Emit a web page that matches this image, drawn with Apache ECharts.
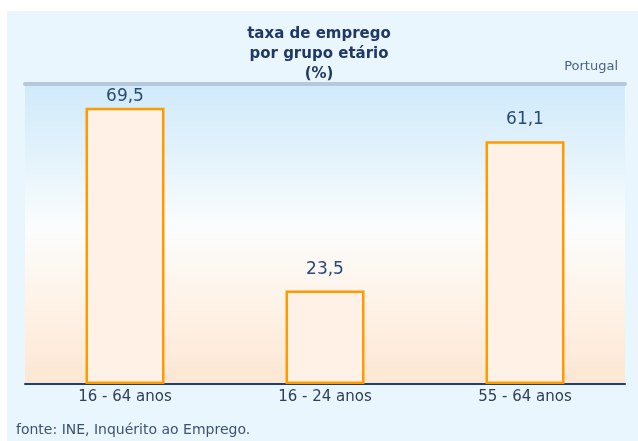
<!DOCTYPE html>
<html>
<head>
<meta charset="utf-8">
<script src="https://cdn.jsdelivr.net/npm/echarts@6/dist/echarts.min.js"></script>
<style>html,body{margin:0;padding:0;background:#fff}#c{width:638px;height:441px}</style>
</head>
<body>
<div id="c"></div>
<script>
const categories = ['16 - 64 anos', '16 - 24 anos', '55 - 64 anos'];
const values = [69.5, 23.5, 61.1];
const titleLines = ['taxa de emprego', 'por grupo etário', '(%)'];
const regionLabel = 'Portugal';
const sourceText = 'fonte: INE, Inquérito ao Emprego.';

const FONT = '"DejaVu Sans", Arial, sans-serif';
const chart = echarts.init(document.getElementById('c'), null, {renderer: 'canvas'});
chart.setOption({
  animation: false,
  backgroundColor: '#ffffff',
  graphic: [
    {type: 'rect', z: -10, shape: {x: 7, y: 11, width: 631, height: 430}, style: {fill: '#eaf6fd'}},
    {type: 'text', left: 'center', top: 24, style: {text: titleLines.join('\n'), font: 'bold 15px ' + FONT, fill: '#1f3868', textAlign: 'center', lineHeight: 20}},
    {type: 'text', right: 20, top: 60, style: {text: regionLabel, font: '13px ' + FONT, fill: '#4a6288'}},
    {type: 'text', left: 16, top: 423, style: {text: sourceText, font: '14px ' + FONT, fill: '#3c5274'}}
  ],
  grid: {
    left: 25, right: 13, top: 84, bottom: 57,
    show: true,
    borderWidth: 0,
    backgroundColor: {
      type: 'linear', x: 0, y: 0, x2: 0, y2: 1,
      colorStops: [
        {offset: 0, color: '#d0eafa'},
        {offset: 0.25, color: '#e4f3fc'},
        {offset: 0.48, color: '#fbfdfd'},
        {offset: 0.75, color: '#fef2e6'},
        {offset: 1, color: '#fde6d3'}
      ]
    }
  },
  xAxis: [
    {
      type: 'category', data: categories, position: 'bottom',
      axisLine: {lineStyle: {color: '#1f3f6f', width: 2}},
      axisTick: {show: false},
      axisLabel: {color: '#2c3e5e', fontSize: 15, fontFamily: FONT, margin: 6}
    },
    {
      type: 'category', data: categories, position: 'top',
      axisLine: {lineStyle: {color: '#b4c9dd', width: 4}},
      axisTick: {show: false},
      axisLabel: {show: false}
    }
  ],
  yAxis: {
    type: 'value', min: 0, max: 75.5,
    show: false,
    splitLine: {show: false}
  },
  series: [{
    type: 'bar',
    data: values.map((v, i) => i === 0 ? {value: v, label: {distance: 3}} : v),
    barWidth: 79,
    itemStyle: {color: '#fff1e6', borderColor: '#ff9a00', borderWidth: 2.5},
    label: {
      show: true, position: 'top', distance: 13,
      formatter: p => p.value.toFixed(1).replace('.', ','),
      color: '#2a4a7a', fontSize: 17, fontFamily: FONT
    }
  }]
});
</script>
</body>
</html>
